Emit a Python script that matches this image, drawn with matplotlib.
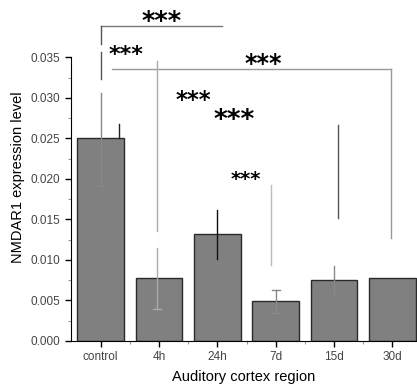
import matplotlib.pyplot as plt
from matplotlib.ticker import FixedLocator, FormatStrFormatter
import numpy as np

plt.rcParams['font.family'] = ['Liberation Sans', 'DejaVu Sans']

# bar data
groups = ['control', '4h', '24h', '7d', '15d', '30d']
levels = [0.0250, 0.0078, 0.0132, 0.0049, 0.0075, 0.0078]

# error bars as (x, low, high, colour, capped)
err_x = [0.0, 0.97, 2.0, 3.0, 3.99]
err_lo = [0.0191, 0.0039, 0.0101, 0.0034, 0.0057]
err_hi = [0.0306, 0.0346, 0.0162, 0.0063, 0.0093]
err_col = ['#888888', '#aaaaaa', '#111111', '#888888', '#888888']
err_cap = [True, True, False, True, False]

# loose vertical strokes
vx = [0.32, 2.92, 4.06]
vlo = [0.0250, 0.0094, 0.0152]
vhi = [0.0268, 0.0193, 0.0267]
vcol = ['#222222', '#bbbbbb', '#555555']

# significance marks
star_x = [1.04, 0.43, 2.78, 1.59, 2.29, 2.49]
star_y = [0.0392, 0.0353, 0.0342, 0.0297, 0.0271, 0.0199]
star_fs = [18.5, 16, 17, 16.5, 19, 14]

fig = plt.figure(figsize=(4.17, 3.86), dpi=100)
ax = fig.add_axes([0.170, 0.1166, 0.830, 0.85])

x = np.arange(len(groups))
ax.bar(x, levels, width=0.8, color='#808080', edgecolor='#2a2a2a', linewidth=1.0, zorder=2)

for xi, lo, hi, c, cap in zip(err_x, err_lo, err_hi, err_col, err_cap):
    ax.plot([xi, xi], [lo, hi], color=c, lw=1, zorder=3)
    if cap:
        ax.plot([xi - 0.07, xi + 0.07], [lo, lo], color=c, lw=1, zorder=3)
# 4h line has a small break
ax.plot([0.97, 0.97], [0.0117, 0.0133], color='white', lw=2, zorder=4)
# 7d top cap
ax.plot([2.93, 3.07], [0.0063, 0.0063], color='#888888', lw=1, zorder=3)

for xi, lo, hi, c in zip(vx, vlo, vhi, vcol):
    ax.plot([xi, xi], [lo, hi], color=c, lw=1, zorder=3)

# brackets
ax.plot([0.0, 2.08], [0.0389, 0.0389], color='#777777', lw=1, clip_on=False)
ax.plot([0.0, 0.0], [0.0367, 0.0389], color='#555555', lw=1, clip_on=False)
ax.plot([0.0, 0.0], [0.0324, 0.0357], color='#555555', lw=1, clip_on=False)
ax.plot([0.20, 4.98], [0.03354, 0.03354], color='#999999', lw=1)
ax.plot([4.98, 4.98], [0.01268, 0.03354], color='#999999', lw=1)

for sx, sy, fs in zip(star_x, star_y, star_fs):
    ax.text(sx, sy, '***', fontsize=fs, ha='center', va='center', color='black',
            family='DejaVu Sans', fontweight='bold', zorder=5, clip_on=False)

ax.set_xlim(-0.51, 5.42)
ax.set_ylim(0, 0.0405)
ax.set_xticks(x)
ax.set_xticklabels(groups)
ax.set_xticks(x[:-1] + 0.5, minor=True)
ax.set_yticks(np.arange(0, 0.0351, 0.005))
ax.yaxis.set_major_formatter(FormatStrFormatter('%.3f'))
ax.yaxis.set_minor_locator(FixedLocator(np.arange(0.0025, 0.035, 0.005)))

for s in ['top', 'right']:
    ax.spines[s].set_visible(False)
ax.spines['left'].set_bounds(0, 0.035)
ax.tick_params(axis='both', which='major', direction='out', length=4, width=1, labelsize=8.5, labelcolor='#444444')
ax.tick_params(axis='both', which='minor', direction='out', length=2.5, width=0.8, color='#999999')

ax.set_ylabel('NMDAR1 expression level', fontsize=10.5, labelpad=4)
ax.set_xlabel('Auditory cortex region', fontsize=10.5, labelpad=5)

fig.savefig('out.png', dpi=100)
